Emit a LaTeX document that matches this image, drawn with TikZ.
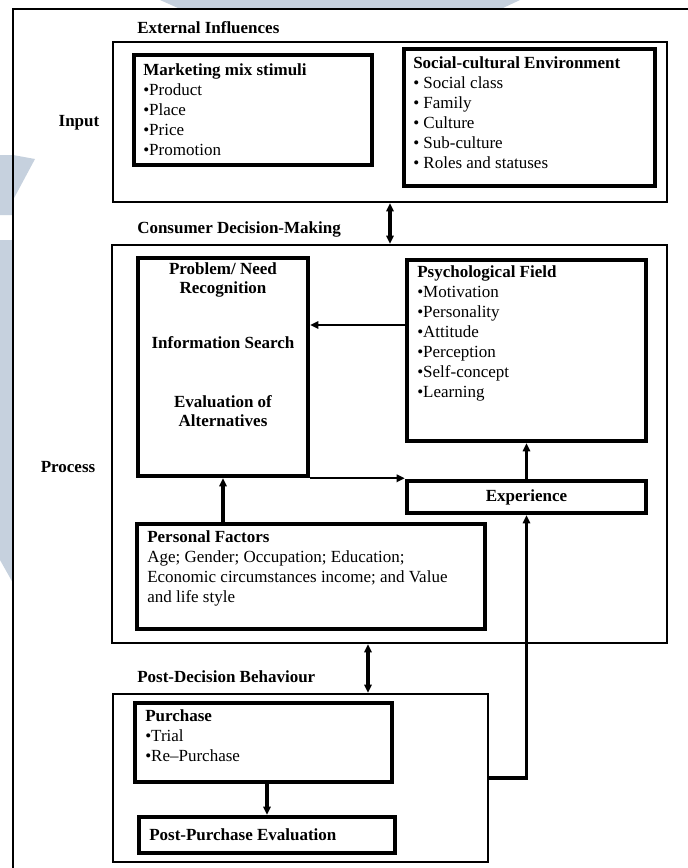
\documentclass[tikz,border=0pt]{standalone}
\usepackage{fontspec}
\setmainfont{Liberation Serif}
\usetikzlibrary{arrows.meta,fit}
\definecolor{wm}{RGB}{198,209,222}
\begin{document}
\begin{tikzpicture}[x=0.75pt,y=-0.75pt,
  framebox/.style={draw, line width=1.5pt, inner sep=0pt},
  thinbox/.style={draw, line width=1.9pt, inner sep=0pt},
  thickbox/.style={draw, line width=3.4pt, inner sep=0pt},
  tip/.tip={Triangle[length=6pt,width=5.5pt]},
  conn/.style={line width=2.2pt, -tip},
  dbl/.style={line width=2.4pt, tip-tip},
  lab/.style={font=\bfseries\fontsize{12.75}{15}\selectfont, inner sep=0pt},
  ctr/.style={font=\bfseries\fontsize{12.75}{14.25}\selectfont, inner sep=0pt, align=center},
  txt/.style={anchor=north west, inner sep=0pt, align=left, font=\fontsize{12.75}{15}\selectfont},
]
\useasboundingbox (0,0) rectangle (688,868);
\fill[white] (0,0) rectangle (688,868);
\clip (0,0) rectangle (688,868);

% faint watermark shapes
\fill[wm] (160,0) -- (520,0) -- (503,8) -- (178,8) -- cycle;
\fill[wm] (0,155) -- (13,155) -- (35,159) -- (13,200) -- (13,215) -- (0,215) -- cycle;
\fill[wm] (0,240) -- (13,240) -- (13,583) -- (0,560) -- cycle;

% outer frame (runs off the right and bottom edges)
\node[framebox, fit={(13,9)(700,885)}] (frame) {};

% boxes
\node[thinbox,  fit={(113,42)(667,202)}]  (ext)  {};
\node[thickbox, fit={(134,55)(372,165)}]  (mkt)  {};
\node[thickbox, fit={(404,49)(655,186)}]  (soc)  {};
\node[thinbox,  fit={(112,245)(667,643)}] (proc) {};
\node[thickbox, fit={(138,258)(308,476)}] (prob) {};
\node[thickbox, fit={(407,260)(646,441)}] (psy)  {};
\node[thickbox, fit={(407,481)(646,513)}] (exp)  {};
\node[thickbox, fit={(137,524)(485,629)}] (pers) {};
\node[thinbox,  fit={(113,694)(488,862)}] (post) {};
\node[thickbox, fit={(135,703)(392,782)}] (pur)  {};
\node[thickbox, fit={(139,817)(395,853)}] (ppe)  {};

% section labels
\node[lab, anchor=west] (extlab) at (137,28) {External Influences};
\node[lab] (input) at (79,123) {Input};
\node[lab, anchor=west] (cdmlab) at (137,229) {Consumer Decision-Making};
\node[lab] (process) at (68,467) {Process};
\node[lab, anchor=west] (pdblab) at (137,677) {Post-Decision Behaviour};

% box texts
\node[txt] (mkttxt) at (143,61) {\strut\textbf{Marketing mix stimuli}\\•Product\\•Place\\•Price\\•Promotion};
\node[txt] (soctxt) at (413,54) {\strut\textbf{Social-cultural Environment}\\• Social class\\• Family\\• Culture\\• Sub-culture\\• Roles and statuses};
\node[txt] (psytxt) at (417,263) {\strut\textbf{Psychological Field}\\•Motivation\\•Personality\\•Attitude\\•Perception\\•Self-concept\\•Learning};
\node[txt] (perstxt) at (147,528) {\strut\textbf{Personal Factors}\\Age; Gender; Occupation; Education;\\Economic circumstances income; and Value\\and life style};
\node[txt] (purtxt) at (145,707) {\strut\textbf{Purchase}\\•Trial\\•Re–Purchase};
\node[lab, anchor=west] (ppetxt) at (149,835) {Post-Purchase Evaluation};
\node[lab] (exptxt) at (526.5,497) {Experience};
\node[ctr] (p1) at (223,280) {Problem/ Need\\Recognition};
\node[ctr] (p2) at (223,343) {Information Search};
\node[ctr] (p3) at (223,411) {Evaluation of\\Alternatives};

% connectors
\coordinate (r1) at (0,325);
\coordinate (c2) at (368,0);
\draw[dbl] (ext.south) -- (ext.south |- proc.north);
\draw[conn] (psy.west |- r1) -- (prob.east |- r1);
\draw[conn, line width=1.8pt] (prob.south east) -- (prob.south east -| exp.west);
\draw[conn, line width=3pt] (prob.south |- pers.north) -- (prob.south);
\draw[conn] (exp.north) -- (psy.south);
\draw[conn, line width=2.6pt] (post.east) -| (exp.south);
\draw[dbl] (proc.south -| c2) -- (post.north -| c2);
\draw[conn, line width=2.6pt] (pur.south -| ppe.north) -- (ppe.north);
\end{tikzpicture}
\end{document}
